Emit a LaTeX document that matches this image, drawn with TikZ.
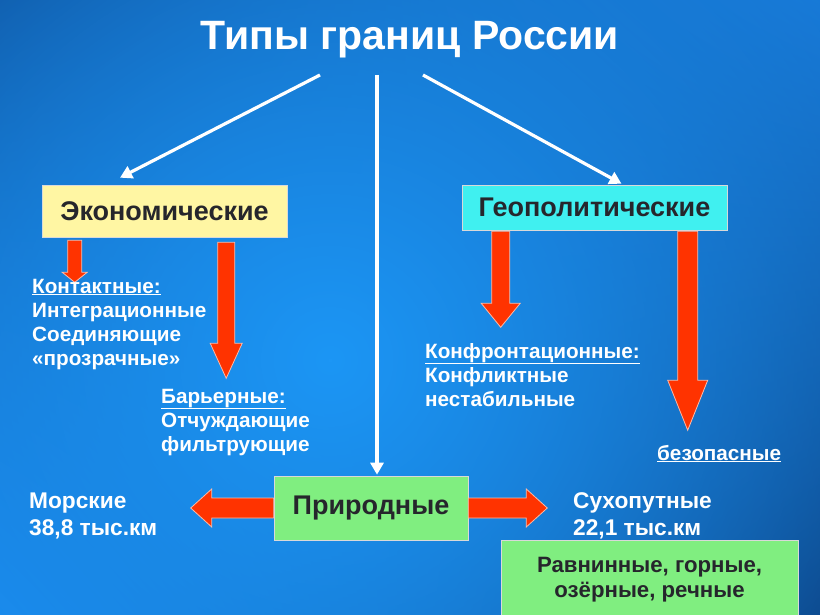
\documentclass[tikz,border=0pt]{standalone}
\usepackage{fontspec}
\setmainfont{Liberation Sans}
\usetikzlibrary{arrows.meta,calc,fadings,shadings}
\definecolor{bgTL}{RGB}{10,62,132}
\definecolor{bgTR}{RGB}{22,112,205}
\definecolor{bgBL}{RGB}{24,128,228}
\definecolor{bgBR}{RGB}{6,40,96}
\definecolor{bgMid}{RGB}{28,150,245}
\definecolor{ecoY}{RGB}{255,246,163}
\definecolor{geoC}{RGB}{64,240,240}
\definecolor{natG}{RGB}{128,238,128}
\definecolor{arRed}{RGB}{255,51,0}
\definecolor{arEdge}{RGB}{255,185,165}
\definecolor{boxTxt}{RGB}{38,38,44}
\tikzfading[name=spotfade, inner color=transparent!0, outer color=transparent!100]
\newcommand\varrow[5]{%
  \filldraw[redarrow] ($(#1)+(-#3,0)$) -- ($(#1)+(#3,0)$) -- ($(#2)+(#3,-#5)$) -- ($(#2)+(#4,-#5)$) -- (#2) -- ($(#2)+(-#4,-#5)$) -- ($(#2)+(-#3,-#5)$) -- cycle;}
\newcommand\harrow[6]{%
  \filldraw[redarrow] ($(#1)+(0,-#3)$) -- ($(#2)+({-#6*#5},-#3)$) -- ($(#2)+({-#6*#5},-#4)$) -- (#2) -- ($(#2)+({-#6*#5},#4)$) -- ($(#2)+({-#6*#5},#3)$) -- ($(#1)+(0,#3)$) -- cycle;}
\begin{document}
\begin{tikzpicture}[x=1pt,y=-1pt,
  redarrow/.style={fill=arRed, draw=arEdge, line width=0.8pt, line join=miter},
  wa/.style={draw=white, line width=3.2pt, -{Triangle[length=12pt,width=13pt]}},
  box/.style={draw=white!70!gray, line width=0.6pt, inner sep=0pt, text=boxTxt, font=\fontsize{27}{27}\selectfont\bfseries},
  lbl/.style={anchor=base west, inner sep=0pt, text=white, font=\fontsize{20.7}{20.7}\selectfont\bfseries},
  nlbl/.style={anchor=base west, inner sep=0pt, text=white, font=\fontsize{22.7}{22.7}\selectfont\bfseries},
  blbl/.style={anchor=base, inner sep=0pt, text=boxTxt, font=\fontsize{22.2}{22.2}\selectfont\bfseries}]
\useasboundingbox (0,0) rectangle (820,615);
% background
\shade[upper left=bgTL, upper right=bgTR, lower left=bgBL, lower right=bgBR] (0,0) rectangle (820,615);
\begin{scope}
\clip (0,0) rectangle (820,615);
\fill[bgMid, path fading=spotfade] (330,360) circle (820);
\end{scope}
% title
\node[anchor=base, inner sep=0pt, text=white, font=\fontsize{41}{41}\selectfont\bfseries] (title) at (410,50) {Типы границ России};
% boxes
\node[box, fill=ecoY, minimum width=245pt, minimum height=52pt] (eco) at (164.5,211) {Экономические};
\node[box, fill=geoC, minimum width=265pt, minimum height=45pt] (geo) at (594.5,207.5) {Геополитические};
\node[box, fill=natG, minimum width=194pt, minimum height=64pt] (nat) at (371,508) {Природные};
\node[box, fill=natG, minimum width=297pt, minimum height=80pt] (relief) at (649.5,580) {};
\node[blbl] (rel1) at (649.5,572) {Равнинные, горные,};
\node[blbl] (rel2) at (649.5,597) {озёрные, речные};
% white arrows
\coordinate (s1) at (320,75);
\coordinate (s2) at (377,75);
\coordinate (s3) at (423,75);
\draw[wa] (s1) -- ([xshift=-44.5pt,yshift=7pt]eco.north);
\draw[wa] (s2) -- ([xshift=6pt,yshift=1pt]nat.north);
\draw[wa] (s3) -- ([xshift=27pt,yshift=1pt]geo.north);
% red arrows
\coordinate (a1s) at ($(eco.south west)+(33,3)$);
\coordinate (a1t) at ($(eco.south west)+(33,45)$);
\coordinate (a2s) at ($(eco.south west)+(184.5,5)$);
\coordinate (a2t) at ($(eco.south west)+(184.5,141)$);
\coordinate (a3s) at ($(geo.south west)+(39,1)$);
\coordinate (a3t) at ($(geo.south west)+(39,97)$);
\coordinate (a4s) at ($(geo.south west)+(226,1)$);
\coordinate (a4t) at ($(geo.south west)+(226,200)$);
\coordinate (a5t) at ($(nat.west)+(-83,0)$);
\coordinate (a6t) at ($(nat.east)+(79,0)$);
\varrow{a1s}{a1t}{7}{12.5}{10}
\varrow{a2s}{a2t}{8.5}{16}{35}
\varrow{a3s}{a3t}{9}{19.5}{24}
\varrow{a4s}{a4t}{10}{20}{50}
\harrow{nat.west}{a5t}{10}{19}{21}{-1}
\harrow{nat.east}{a6t}{10}{19}{21}{1}
% labels
\node[lbl] (k1) at (32,293) {\underline{Контактные:}};
\node[lbl] (k2) at (32,317) {Интеграционные};
\node[lbl] (k3) at (32,341) {Соединяющие};
\node[lbl] (k4) at (32,365) {«прозрачные»};
\node[lbl] (b1) at (161,403) {\underline{Барьерные:}};
\node[lbl] (b2) at (161,427) {Отчуждающие};
\node[lbl] (b3) at (161,451) {фильтрующие};
\node[lbl] (f1) at (425,358) {\underline{Конфронтационные:}};
\node[lbl] (f2) at (425,382) {Конфликтные};
\node[lbl] (f3) at (425,406) {нестабильные};
\node[lbl] (bz) at (657,460) {\underline{безопасные}};
\node[nlbl] (m1) at (29,508) {Морские};
\node[nlbl] (m2) at (29,535) {38,8 тыс.км};
\node[nlbl] (c1) at (573,508) {Сухопутные};
\node[nlbl] (c2) at (573,535) {22,1 тыс.км};
\end{tikzpicture}
\end{document}
